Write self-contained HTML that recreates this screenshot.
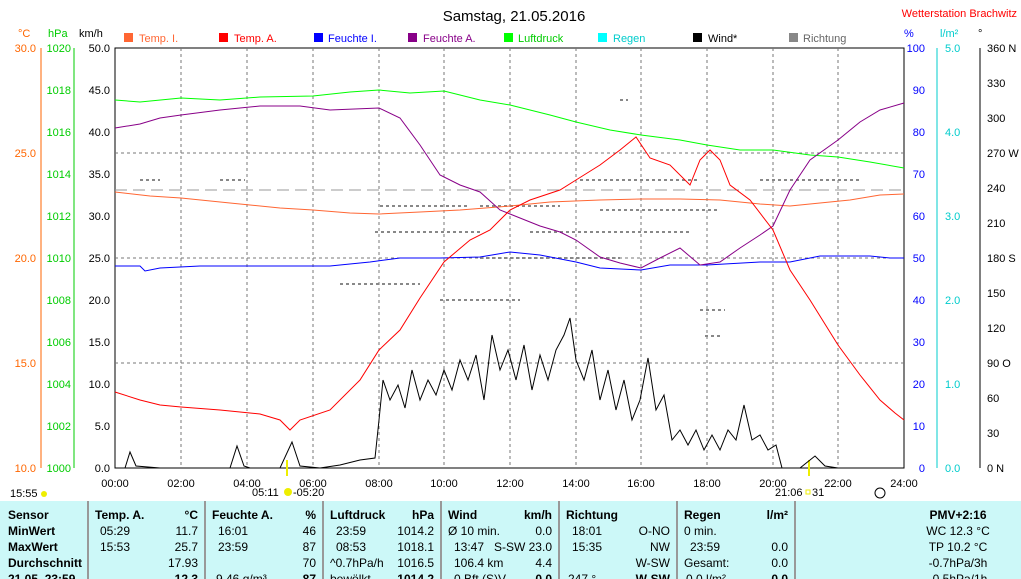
<!DOCTYPE html>
<html><head><meta charset="utf-8"><style>
body{margin:0;width:1021px;height:579px;overflow:hidden;background:#fff;font-family:"Liberation Sans",sans-serif;}
svg{position:absolute;left:0;top:0}
</style></head><body>
<svg width="1021" height="579" xmlns="http://www.w3.org/2000/svg" font-family="Liberation Sans, sans-serif">
<text x="514" y="21" font-size="15" text-anchor="middle">Samstag, 21.05.2016</text>
<text x="1017" y="17" font-size="11" fill="#f00" text-anchor="end">Wetterstation Brachwitz</text>
<g font-size="11">
<text x="18" y="37" fill="#f60">°C</text><text x="48" y="37" fill="#0c0">hPa</text><text x="79" y="37">km/h</text>
<text x="904" y="37" fill="#00f">%</text><text x="940" y="37" fill="#0cc">l/m²</text><text x="978" y="37">°</text>
</g>
<g font-size="11">
<rect x="124" y="33" width="9" height="9" fill="#f63"/><text x="139" y="42" fill="#f63">Temp. I.</text>
<rect x="219" y="33" width="9" height="9" fill="#f00"/><text x="234" y="42" fill="#f00">Temp. A.</text>
<rect x="314" y="33" width="9" height="9" fill="#00f"/><text x="328" y="42" fill="#00f">Feuchte I.</text>
<rect x="408" y="33" width="9" height="9" fill="#808"/><text x="423" y="42" fill="#808">Feuchte A.</text>
<rect x="504" y="33" width="9" height="9" fill="#0f0"/><text x="518" y="42" fill="#0c0">Luftdruck</text>
<rect x="598" y="33" width="9" height="9" fill="#0ff"/><text x="613" y="42" fill="#0cc">Regen</text>
<rect x="693" y="33" width="9" height="9" fill="#000"/><text x="708" y="42">Wind*</text>
<rect x="789" y="33" width="9" height="9" fill="#888"/><text x="803" y="42" fill="#666">Richtung</text>
</g>
<rect x="115" y="48" width="789" height="420" fill="none" stroke="#000"/>
<g stroke="#777" stroke-dasharray="3,3">
<line x1="181" y1="48" x2="181" y2="468"/><line x1="247" y1="48" x2="247" y2="468"/><line x1="313" y1="48" x2="313" y2="468"/><line x1="379" y1="48" x2="379" y2="468"/><line x1="444" y1="48" x2="444" y2="468"/><line x1="510" y1="48" x2="510" y2="468"/><line x1="576" y1="48" x2="576" y2="468"/><line x1="641" y1="48" x2="641" y2="468"/><line x1="707" y1="48" x2="707" y2="468"/><line x1="773" y1="48" x2="773" y2="468"/><line x1="838" y1="48" x2="838" y2="468"/>
<line x1="115" y1="153" x2="904" y2="153"/><line x1="115" y1="258" x2="904" y2="258"/><line x1="115" y1="363" x2="904" y2="363"/>
</g>
<line x1="115" y1="190" x2="904" y2="190" stroke="#999" stroke-dasharray="12,6"/>
<g font-size="11" text-anchor="end">
<g fill="#f60"><text x="36" y="52">30.0</text><text x="36" y="157">25.0</text><text x="36" y="262">20.0</text><text x="36" y="367">15.0</text><text x="36" y="472">10.0</text></g>
<g fill="#0c0"><text x="71" y="52">1020</text><text x="71" y="94">1018</text><text x="71" y="136">1016</text><text x="71" y="178">1014</text><text x="71" y="220">1012</text><text x="71" y="262">1010</text><text x="71" y="304">1008</text><text x="71" y="346">1006</text><text x="71" y="388">1004</text><text x="71" y="430">1002</text><text x="71" y="472">1000</text></g>
<g><text x="110" y="52">50.0</text><text x="110" y="94">45.0</text><text x="110" y="136">40.0</text><text x="110" y="178">35.0</text><text x="110" y="220">30.0</text><text x="110" y="262">25.0</text><text x="110" y="304">20.0</text><text x="110" y="346">15.0</text><text x="110" y="388">10.0</text><text x="110" y="430">5.0</text><text x="110" y="472">0.0</text></g>
</g>
<line x1="41" y1="48" x2="41" y2="468" stroke="#f60"/><line x1="74" y1="48" x2="74" y2="468" stroke="#0c0"/>
<g font-size="11">
<g fill="#00f" text-anchor="end"><text x="925" y="52">100</text><text x="925" y="94">90</text><text x="925" y="136">80</text><text x="925" y="178">70</text><text x="925" y="220">60</text><text x="925" y="262">50</text><text x="925" y="304">40</text><text x="925" y="346">30</text><text x="925" y="388">20</text><text x="925" y="430">10</text><text x="925" y="472">0</text></g>
<line x1="937" y1="48" x2="937" y2="468" stroke="#0cc"/>
<g fill="#0cc"><text x="945" y="52">5.0</text><text x="945" y="136">4.0</text><text x="945" y="220">3.0</text><text x="945" y="304">2.0</text><text x="945" y="388">1.0</text><text x="945" y="472">0.0</text></g>
<line x1="980" y1="48" x2="980" y2="468" stroke="#000"/>
<g><text x="987" y="52">360 N</text><text x="987" y="87">330</text><text x="987" y="122">300</text><text x="987" y="157">270 W</text><text x="987" y="192">240</text><text x="987" y="227">210</text><text x="987" y="262">180 S</text><text x="987" y="297">150</text><text x="987" y="332">120</text><text x="987" y="367">90 O</text><text x="987" y="402">60</text><text x="987" y="437">30</text><text x="987" y="472">0 N</text></g>
</g>
<g font-size="11" text-anchor="middle">
<text x="115" y="487">00:00</text><text x="181" y="487">02:00</text><text x="247" y="487">04:00</text><text x="313" y="487">06:00</text><text x="379" y="487">08:00</text><text x="444" y="487">10:00</text><text x="510" y="487">12:00</text><text x="576" y="487">14:00</text><text x="641" y="487">16:00</text><text x="707" y="487">18:00</text><text x="773" y="487">20:00</text><text x="838" y="487">22:00</text><text x="904" y="487">24:00</text>
</g>
<g font-size="11"><text x="10" y="497">15:55</text><circle cx="44" cy="494" r="3" fill="#ee0"/>
<text x="252" y="496">05:11</text><circle cx="288" cy="492" r="4" fill="#ee0"/><text x="293" y="496">-05:20</text>
<text x="775" y="496">21:06</text><rect x="806" y="490" width="4" height="4" fill="none" stroke="#ee0"/><text x="812" y="496">31</text>
<circle cx="880" cy="493" r="5" fill="none" stroke="#000"/></g>
<line x1="287" y1="460" x2="287" y2="476" stroke="#ee0" stroke-width="2"/><line x1="809" y1="460" x2="809" y2="476" stroke="#ee0" stroke-width="2"/>
<g stroke="#888" stroke-dasharray="3,3" stroke-width="2">
<line x1="140" y1="180" x2="160" y2="180"/><line x1="220" y1="180" x2="245" y2="180"/><line x1="380" y1="206" x2="470" y2="206"/><line x1="375" y1="232" x2="480" y2="232"/><line x1="340" y1="284" x2="420" y2="284"/><line x1="480" y1="206" x2="560" y2="206"/><line x1="530" y1="232" x2="690" y2="232"/><line x1="580" y1="180" x2="700" y2="180"/><line x1="600" y1="210" x2="720" y2="210"/><line x1="480" y1="258" x2="620" y2="258"/><line x1="700" y1="310" x2="725" y2="310"/><line x1="705" y1="336" x2="720" y2="336"/><line x1="760" y1="180" x2="860" y2="180"/><line x1="620" y1="100" x2="628" y2="100"/><line x1="440" y1="300" x2="520" y2="300"/>
</g>
<polyline fill="none" stroke="#0f0" points="115,100 140,102 181,98 220,100 260,97 313,96 350,92 379,90 410,93 444,91 480,100 510,105 550,115 576,122 610,130 641,135 680,140 707,145 740,150 773,150 810,155 838,157 870,162 904,168"/>
<polyline fill="none" stroke="#f63" points="115,192 150,196 181,198 230,203 280,208 313,210 350,213 379,214 420,212 460,210 510,206 550,202 600,200 641,199 680,199 720,200 760,204 790,206 820,203 850,200 880,195 904,194"/>
<polyline fill="none" stroke="#00f" points="115,266 140,266 145,271 160,268 200,266 260,266 330,266 370,262 400,258 440,258 480,257 510,252 540,255 576,262 600,268 641,270 670,265 707,265 760,262 790,262 820,256 870,256 890,258 904,258"/>
<polyline fill="none" stroke="#808" points="115,128 140,124 160,118 181,115 220,110 260,106 300,106 330,110 379,108 400,118 420,145 440,175 460,185 480,192 500,210 520,218 540,226 560,232 576,240 600,257 620,263 641,268 660,258 680,248 700,265 720,262 740,248 760,235 773,226 790,190 810,160 838,140 860,122 880,110 904,103"/>
<polyline fill="none" stroke="#f00" points="115,392 140,400 160,405 181,407 220,410 260,414 280,420 290,430 300,420 330,410 360,380 379,350 400,330 420,298 444,262 470,240 490,230 510,210 530,200 560,190 576,180 600,165 620,150 636,137 650,158 670,165 690,185 700,160 710,150 720,160 730,185 750,200 773,230 790,270 810,300 838,345 860,375 880,400 895,413 904,420"/>
<polyline fill="none" stroke="#000" points="115,468 125,468 130,452 136,466 160,468 230,468 237,446 244,466 250,468 280,468 292,442 300,466 320,468 340,465 360,460 375,458 379,420 383,380 390,400 398,385 405,408 412,370 420,400 428,380 436,395 444,370 452,390 460,360 468,380 476,355 484,400 492,335 500,370 508,350 516,380 524,345 532,390 540,355 548,380 556,350 564,335 570,318 576,360 584,380 592,350 600,400 608,370 616,410 624,380 632,420 640,400 648,358 656,410 664,395 672,440 680,430 688,445 696,430 704,450 712,435 720,450 728,430 736,440 744,405 752,440 760,435 768,450 776,445 782,468 800,468 815,456 825,466 838,468 904,468"/>
<rect x="0" y="501" width="1021" height="78" fill="#ccf8f8"/>
<g stroke="#999" stroke-width="2"><line x1="88" y1="501" x2="88" y2="579"/><line x1="205" y1="501" x2="205" y2="579"/><line x1="323" y1="501" x2="323" y2="579"/><line x1="441" y1="501" x2="441" y2="579"/><line x1="559" y1="501" x2="559" y2="579"/><line x1="677" y1="501" x2="677" y2="579"/><line x1="795" y1="501" x2="795" y2="579"/></g>
<g font-size="12">
<g font-weight="bold"><text x="8" y="519">Sensor</text><text x="8" y="535">MinWert</text><text x="8" y="551">MaxWert</text><text x="8" y="567">Durchschnitt</text><text x="8" y="583">21.05. 23:59</text>
<text x="95" y="519">Temp. A.</text><text x="198" y="519" text-anchor="end">°C</text>
<text x="212" y="519">Feuchte A.</text><text x="316" y="519" text-anchor="end">%</text>
<text x="330" y="519">Luftdruck</text><text x="434" y="519" text-anchor="end">hPa</text>
<text x="448" y="519">Wind</text><text x="552" y="519" text-anchor="end">km/h</text>
<text x="566" y="519">Richtung</text><text x="684" y="519">Regen</text><text x="788" y="519" text-anchor="end">l/m²</text>
<text x="958" y="519" text-anchor="middle">PMV+2:16</text>
<text x="198" y="583" text-anchor="end">12.3</text><text x="316" y="583" text-anchor="end">87</text><text x="434" y="583" text-anchor="end">1014.2</text>
<text x="552" y="583" text-anchor="end">0.0</text><text x="670" y="583" text-anchor="end">W-SW</text><text x="788" y="583" text-anchor="end">0.0</text></g>
<text x="100" y="535">05:29</text><text x="198" y="535" text-anchor="end">11.7</text>
<text x="100" y="551">15:53</text><text x="198" y="551" text-anchor="end">25.7</text>
<text x="198" y="567" text-anchor="end">17.93</text>
<text x="218" y="535">16:01</text><text x="316" y="535" text-anchor="end">46</text>
<text x="218" y="551">23:59</text><text x="316" y="551" text-anchor="end">87</text>
<text x="316" y="567" text-anchor="end">70</text>
<text x="216" y="583">9.46 g/m³</text>
<text x="336" y="535">23:59</text><text x="434" y="535" text-anchor="end">1014.2</text>
<text x="336" y="551">08:53</text><text x="434" y="551" text-anchor="end">1018.1</text>
<text x="330" y="567">^0.7hPa/h</text><text x="434" y="567" text-anchor="end">1016.5</text>
<text x="330" y="583">bewölkt</text>
<text x="448" y="535">Ø 10 min.</text><text x="552" y="535" text-anchor="end">0.0</text>
<text x="454" y="551">13:47</text><text x="552" y="551" text-anchor="end">S-SW 23.0</text>
<text x="454" y="567">106.4 km</text><text x="552" y="567" text-anchor="end">4.4</text>
<text x="454" y="583">0 Bft (S)V</text>
<text x="572" y="535">18:01</text><text x="670" y="535" text-anchor="end">O-NO</text>
<text x="572" y="551">15:35</text><text x="670" y="551" text-anchor="end">NW</text>
<text x="670" y="567" text-anchor="end">W-SW</text>
<text x="568" y="583">247 °</text>
<text x="684" y="535">0 min.</text>
<text x="690" y="551">23:59</text><text x="788" y="551" text-anchor="end">0.0</text>
<text x="684" y="567">Gesamt:</text><text x="788" y="567" text-anchor="end">0.0</text>
<text x="686" y="583">0.0 l/m²</text>
<text x="958" y="535" text-anchor="middle">WC 12.3 °C</text>
<text x="958" y="551" text-anchor="middle">TP 10.2 °C</text>
<text x="958" y="567" text-anchor="middle">-0.7hPa/3h</text>
<text x="958" y="583" text-anchor="middle">-0.5hPa/1h</text>
</g>
</svg>
</body></html>
